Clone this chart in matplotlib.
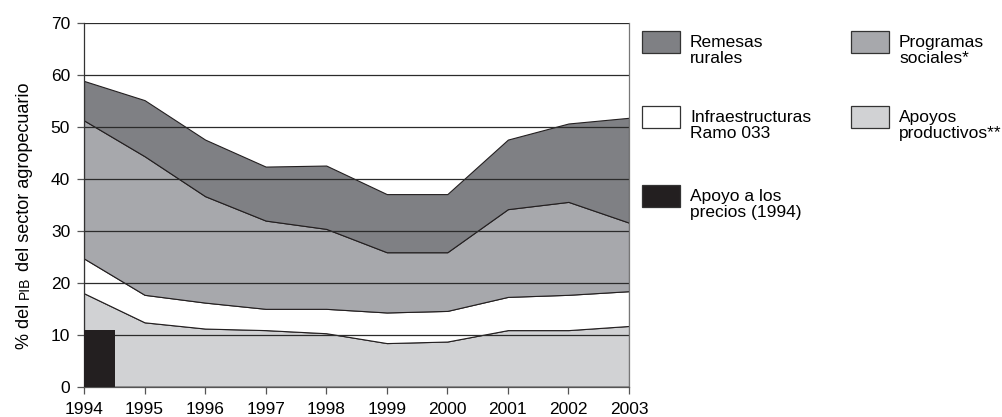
import matplotlib.pyplot as plt
from matplotlib.patches import Rectangle

plt.rcParams['font.family'] = ['Liberation Sans', 'DejaVu Sans']

# Datos (% del PIB del sector agropecuario), por componente
anios = [1994, 1995, 1996, 1997, 1998, 1999, 2000, 2001, 2002, 2003]
apoyos_productivos = [18.0, 12.4, 11.2, 10.9, 10.3, 8.4, 8.7, 10.9, 10.9, 11.7]
infraestructuras = [6.7, 5.3, 5.0, 4.1, 4.7, 5.9, 5.9, 6.4, 6.8, 6.7]
programas_sociales = [26.6, 26.7, 20.5, 17.0, 15.4, 11.6, 11.3, 16.9, 17.9, 13.2]
remesas = [7.6, 10.8, 10.9, 10.4, 12.2, 11.2, 11.2, 13.4, 15.1, 20.2]
apoyo_precios = 10.9  # solo 1994

c_remesas = '#7f8084'
c_programas = '#a7a8ac'
c_infra = '#ffffff'
c_apoyos = '#d1d2d4'
c_precios = '#231f20'
linea = '#231f20'

fig = plt.figure(figsize=(10.03, 4.17), dpi=100)
ax = fig.add_axes([84 / 1003, 1 - 386.7 / 417, (629 - 84) / 1003, (386.7 - 23.3) / 417])

ax.stackplot(anios, apoyos_productivos, infraestructuras, programas_sociales, remesas,
             colors=[c_apoyos, c_infra, c_programas, c_remesas],
             edgecolor=linea, linewidth=0.8, zorder=1)

for y in range(10, 71, 10):
    ax.axhline(y, color='#2b2b2b', linewidth=0.9, zorder=2)

ax.bar(anios[0], apoyo_precios, width=0.52, align='edge', color=c_precios, zorder=3)

ax.set_xlim(1994, 2003)
ax.set_ylim(0, 70)
ax.set_xticks(anios)
ax.set_yticks(range(0, 71, 10))
ax.tick_params(axis='both', labelsize=12.5, length=5, width=0.9, color='#555555', pad=5)
ax.tick_params(axis='x', pad=6)
ax.spines['top'].set_visible(False)
ax.spines['left'].set_color('#333333')
ax.spines['bottom'].set_color('#555555')
ax.spines['right'].set_color('#777777')
for s in ax.spines.values():
    s.set_linewidth(0.9)

# Etiqueta del eje Y con "PIB" en versalitas
t1 = fig.text(33 / 1003, 1 - 349 / 417, '% del ', rotation=90, ha='right', va='bottom', fontsize=13)
t2 = ax.annotate('PIB', xy=(1, 1), xycoords=t1, xytext=(-0.6, 0), textcoords='offset points',
                 rotation=90, ha='right', va='bottom', fontsize=10, annotation_clip=False)
t3 = ax.annotate(' del sector agropecuario', xy=(1, 1), xycoords=t2, xytext=(0.6, 0),
                 textcoords='offset points', rotation=90, ha='right', va='bottom', fontsize=13,
                 annotation_clip=False)

# Leyenda manual en dos columnas
etiquetas = ['Remesas\nrurales', 'Infraestructuras\nRamo 033', 'Apoyo a los\nprecios (1994)',
             'Programas\nsociales*', 'Apoyos\nproductivos**']
colores = [c_remesas, c_infra, c_precios, c_programas, c_apoyos]
cols_x = [642, 851]
filas_y = [31, 106, 185]
posiciones = [(0, 0), (0, 1), (0, 2), (1, 0), (1, 1)]
for etq, col, (ci, fi) in zip(etiquetas, colores, posiciones):
    x0 = cols_x[ci]
    y0 = filas_y[fi]
    fig.patches.append(Rectangle((x0 / 1003, 1 - (y0 + 22) / 417), 38 / 1003, 22 / 417,
                                 transform=fig.transFigure, facecolor=col,
                                 edgecolor='#333333', linewidth=0.9))
    fig.text((x0 + 48) / 1003, 1 - (y0 + 4) / 417, etq, ha='left', va='top',
             fontsize=12.5, linespacing=1.1)

fig.savefig('out.png', dpi=100)
